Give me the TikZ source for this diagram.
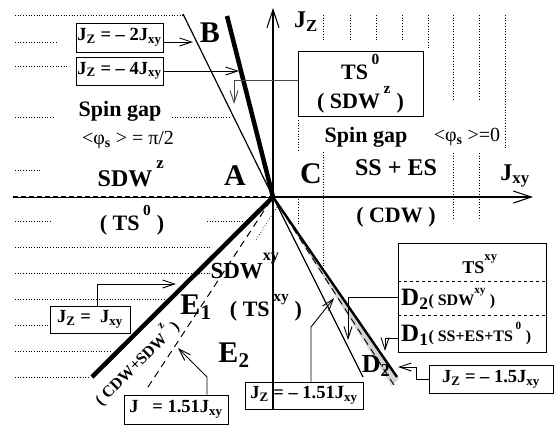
\documentclass[tikz,border=0pt]{standalone}
\usepackage{fontspec}
\setmainfont{Liberation Serif}
\usetikzlibrary{arrows.meta, positioning, calc}
\newcommand{\hi}[1]{\raisebox{0.35em}{\textsuperscript{#1}}}
\newcommand{\lo}[1]{\textsubscript{#1}}

\begin{document}
\begin{tikzpicture}[
    x=1pt, y=-1pt,
    region/.style={font=\fontsize{22}{29}\selectfont\bfseries, inner sep=0pt},
    corner/.style={font=\fontsize{30}{32}\selectfont\bfseries, inner sep=0pt},
    phasetxt/.style={font=\fontsize{20}{22}\selectfont, inner sep=0pt},
    eqbox/.style={draw, line width=1pt, inner sep=0pt,
                  font=\fontsize{18.5}{20}\selectfont\bfseries},
    griddots/.style={dotted, line width=0.7pt},
    axis/.style={line width=1.1pt, -{Straight Barb[length=18pt, width=12pt]}},
    pointer/.style={line width=0.9pt, -{Straight Barb[length=12pt, width=8pt]}},
    longdash/.style={line width=1pt, dash pattern=on 7pt off 5pt},
]
    \useasboundingbox (0,0) rectangle (555,426);

    % Dotted guides
    \foreach \y/\a/\b in {15/15/183, 42/15/57, 66/15/67, 117/15/53, 117/172/230,
                          170/15/40, 221/15/52, 221/207/250, 247/15/212, 273/15/210,
                          299/15/165, 325/15/50, 351/15/110, 377/15/90}
        \draw[griddots] (\a,\y) -- (\b,\y);
    \foreach \x/\a/\b in {298/120/150, 298/199/225, 323/15/42, 323/152/275,
                          350/15/42, 376/15/42, 402/15/42, 428/15/48,
                          453/15/100, 453/153/220, 479/15/100, 479/153/220, 505/15/150}
        \draw[griddots] (\x,\a) -- (\x,\b);
    \draw[griddots] (277,207) -- (256,240);

    % Axes
    \coordinate (O) at (273,197);
    \coordinate (xl) at (13,197);
    \coordinate (xr) at (533,197);
    \coordinate (yb) at (273,410);
    \coordinate (yt) at (273,8);
    \draw[line width=1pt] (xl) -- (O);
    \draw[line width=2.2pt, dash pattern=on 5pt off 3pt] (xl) -- (O);
    \draw[axis] (O) -- (xr);
    \draw[axis] (yb) -- (yt);
    \node[region, font=\fontsize{24}{26}\selectfont\bfseries] (jz) at (306,22) {J\lo{Z}};
    \node[region, font=\fontsize{24}{26}\selectfont\bfseries] (jxy) at (515,176) {J\lo{xy}};

    % Phase boundaries
    \coordinate (b1) at (183,14);
    \coordinate (b2) at (227,16);
    \coordinate (e1) at (92,377);
    \coordinate (e2) at (148,387);
    \coordinate (d0) at (363,377);
    \coordinate (d1) at (397,377);
    \coordinate (d2) at (394,385);
    \fill[gray!35] (O) -- (399,378) -- (392,386) -- cycle;
    \draw[line width=1.2pt] (b1) -- (O);
    \draw[line width=4.5pt] (b2) -- (O);
    \draw[line width=4.5pt] (e1) -- (O);
    \draw[longdash] (e2) -- (O);
    \draw[line width=1.2pt] (d0) -- (O);
    \draw[line width=2.4pt] (d1) -- (O);
    \draw[longdash, line width=0.9pt] (d2) -- (O);

    % Region labels
    \node[corner] (ptB) at (210,33) {B};
    \node[corner] (ptA) at (235,176) {A};
    \node[corner] (ptC) at (311,174) {C};
    \node[region] (gapl) at (120,111) {Spin gap};
    \node[phasetxt] (phil) at (128,140) {<φ\lo{\bfseries s} > = π/2};
    \node[region] (gapr) at (366,137) {Spin gap};
    \node[phasetxt] (phir) at (467,137) {<φ\lo{\bfseries s} >=0};
    \node[region, font=\fontsize{24}{26}\selectfont\bfseries] (sdwz) at (131,174) {SDW\,\hi{z}};
    \node[region] (ts0) at (132,220) {( TS\,\hi{0} )};
    \node[region, font=\fontsize{24}{26}\selectfont\bfseries] (sses) at (396,168) {SS + ES};
    \node[region] (cdw) at (396,217) {( CDW )};
    \node[region, font=\fontsize{23}{25}\selectfont\bfseries] (sdwxy) at (245,266) {SDW\hi{xy}};
    \node[region] (tsxy) at (266,308) {( TS\,\hi{xy} )};
    \node[corner] (ptE1) at (196,307) {E\lo{1}};
    \node[corner] (ptE2) at (234,355) {E\lo{2}};
    \node[corner, font=\fontsize{26}{28}\selectfont\bfseries] (ptD2) at (376,366) {D\lo{2}};
    \node[region, font=\fontsize{16}{18}\selectfont\bfseries, rotate=45] (mix) at (136,362) {( CDW+SDW\,\hi{z} )};

    % Boxes with pointers
    \node[eqbox, minimum width=87, minimum height=29] (bx2) at (119.5,37.5) {J\lo{Z} = – 2J\lo{xy}};
    \node[eqbox, minimum width=87, minimum height=28] (bx4) at (119.5,71) {J\lo{Z} = – 4J\lo{xy}};
    \node[eqbox, minimum width=80, minimum height=27] (bx1) at (90,319.5) {J\lo{Z} = \ J\lo{xy}};
    \node[eqbox, minimum width=104, minimum height=29] (bx151) at (176,409.5) {J \ \ = 1.51J\lo{xy}};
    \node[eqbox, minimum width=118, minimum height=27] (bx151m) at (304,395.5) {J\lo{Z} = – 1.51J\lo{xy}};
    \node[eqbox, minimum width=124, minimum height=28] (bx15) at (491,379) {J\lo{Z} = – 1.5J\lo{xy}};
    \node[eqbox, region, draw, line width=1pt, minimum width=125, minimum height=65, align=center]
        (ts0box) at (360.5,83.5) {TS\,\hi{0}\\( SDW\,\hi{z} )};

    \coordinate (tipA) at (193,42);
    \coordinate (tipB) at (239,71);
    \coordinate (tipC) at (176,284);
    \coordinate (knD) at (207,377);
    \coordinate (tipD) at (178,348);
    \coordinate (knE) at (311,327);
    \coordinate (tipE) at (334,298);
    \coordinate (knF) at (416,379);
    \coordinate (tipF) at (398,367);
    \coordinate (tipG) at (234,104);

    \draw[pointer] (bx2.east |- tipA) -- (tipA);
    \draw[pointer] (bx4.east |- tipB) -- (tipB);
    \draw[pointer] ([xshift=7pt]bx1.north) |- (tipC);
    \draw[pointer] (bx151.north -| knD) -- (knD) -- (tipD);
    \draw[pointer] (bx151m.north -| knE) -- (knE) -- (tipE);
    \draw[pointer] (bx15.west) -- (knF) |- (tipF);
    \draw[pointer, gray!55!black] ([yshift=3.5pt]ts0box.west) -| (tipG);

    % Legend of the D regions
    \node[draw, line width=1pt, minimum width=148, minimum height=109, inner sep=0pt] (dbox) at (472,297.5) {};
    \draw[dashed, line width=0.9pt] ([yshift=-39pt]dbox.north west) -- ([yshift=-39pt]dbox.north east);
    \draw[dashed, line width=0.9pt] ([yshift=-73pt]dbox.north west) -- ([yshift=-73pt]dbox.north east);
    \node[region, font=\fontsize{18}{20}\selectfont\bfseries] (tsxyl) at (480,264) {TS\hi{xy}};
    \node[anchor=west, inner sep=0pt, font=\bfseries] (rowD2) at (401,299)
        {{\fontsize{25}{25}\selectfont D\lo{2}}{\fontsize{16}{16}\selectfont( SDW\hi{xy} )}};
    \node[anchor=west, inner sep=0pt, font=\bfseries] (rowD1) at (401,334)
        {{\fontsize{25}{25}\selectfont D\lo{1}}{\fontsize{16}{16}\selectfont( SS+ES+TS\,\hi{0} )}};
    \coordinate (rowY2) at (398,297);
    \coordinate (rowY1) at (398,338);
    \coordinate (tipH) at (348,340);
    \coordinate (tipI) at (385,351);
    \draw[pointer] (rowY2) -| (tipH);
    \draw[pointer] (rowY1) -| (tipI);
\end{tikzpicture}
\end{document}
